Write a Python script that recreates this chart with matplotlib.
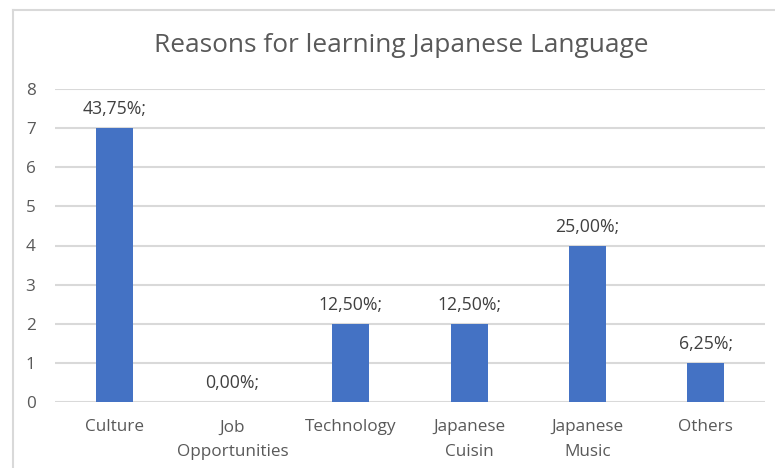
import matplotlib
matplotlib.use("Agg")
import matplotlib.pyplot as plt
from matplotlib.lines import Line2D

categories = ["Culture", "Job\nOpportunities", "Technology", "Japanese\nCuisin", "Japanese\nMusic", "Others"]
counts = [7, 0, 2, 2, 4, 1]
labels = ["43,75%;", "0,00%;", "12,50%;", "12,50%;", "25,00%;", "6,25%;"]
yticks = [0, 1, 2, 3, 4, 5, 6, 7, 8]

plt.rcParams['font.family'] = ['Open Sans', 'DejaVu Sans']

W, H = 775, 468
fig = plt.figure(figsize=(W / 100, H / 100), dpi=100)

# chart frame (left and top edges)
fig.add_artist(Line2D([13 / W, 13 / W], [0, 1 - 10 / H], transform=fig.transFigure,
                      color="#D9D9D9", lw=1.5))
fig.add_artist(Line2D([13 / W, 1], [1 - 10 / H, 1 - 10 / H], transform=fig.transFigure,
                      color="#D9D9D9", lw=1.5))

x0, x1 = 55, 765
y_top, y_bot = 89, 402
ax = fig.add_axes([x0 / W, 1 - y_bot / H, (x1 - x0) / W, (y_bot - y_top) / H])

xs = range(len(categories))
bars = ax.bar(xs, counts, width=0.31, color="#4472C4", zorder=3)
ax.set_xlim(-0.5, len(categories) - 0.5)
ax.set_ylim(0, 8)
ax.set_yticks(yticks)
ax.yaxis.grid(True, color="#D9D9D9", lw=1.5, zorder=0)
for s in ax.spines.values():
    s.set_visible(False)
ax.tick_params(axis="both", length=0, labelsize=12.3, labelcolor="#595959")
ax.tick_params(axis="y", pad=14)
ax.tick_params(axis="x", pad=12.5)
ax.set_xticks(list(xs))
ax.set_xticklabels(categories, linespacing=1.68)

for x, v, t in zip(xs, counts, labels):
    ax.annotate(t, (x, v), xytext=(0, 7), textcoords="offset points",
                ha="center", va="bottom", fontsize=12.7, color="#404040")

fig.text(401 / W, 1 - 45 / H, "Reasons for learning Japanese Language",
         ha="center", va="center", fontsize=18.9, color="#595959")

fig.savefig("out.png", dpi=100, facecolor="white")
